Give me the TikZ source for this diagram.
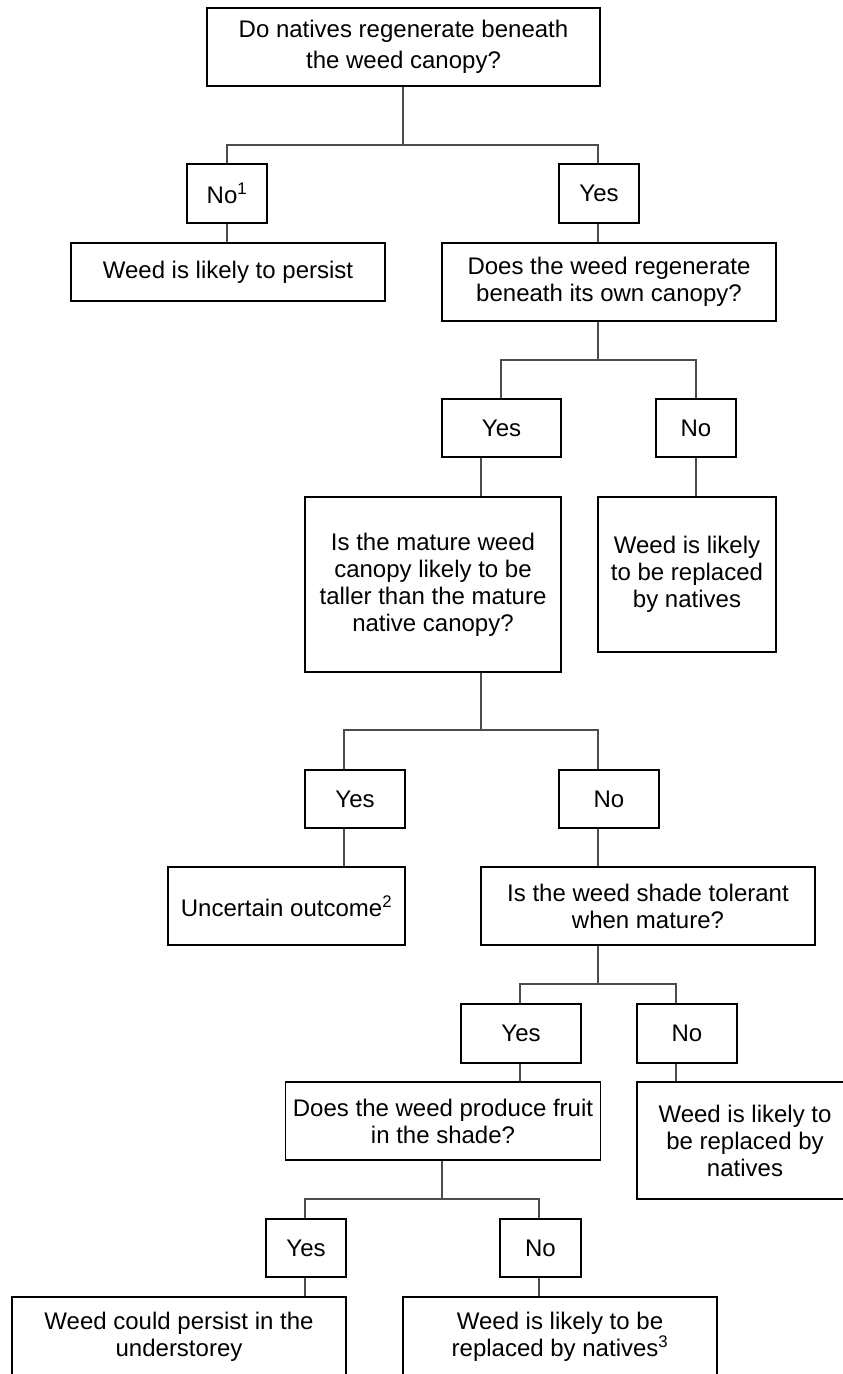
\documentclass[tikz,border=0pt]{standalone}
\usepackage{fontspec}
\setmainfont{Liberation Sans}

\def \boxLine {1.3pt}
\def \linkLine {1.1pt}

\tikzset{
  box/.style={draw=black, line width=\boxLine, inner sep=0pt, align=center,
    font=\fontsize{24}{27}\selectfont},
  link/.style={draw=black!70, line width=\linkLine},
}

\begin{document}
\begin{tikzpicture}[x=1pt, y=-1pt]
         \useasboundingbox (0,0) rectangle (843,1374);
         \clip (0,0) rectangle (843,1374);

         % Erste Frage
         \node[box, minimum width=393, minimum height=78, font=\fontsize{24}{31}\selectfont] (q1) at (403.5, 47) {Do natives regenerate beneath\\the weed canopy?};
         \node[box, minimum width=80, minimum height=59] (no1) at (227, 193.5) {No\textsuperscript{1}};
         \node[box, minimum width=80, minimum height=59] (yes1) at (599, 193.5) {Yes};
         \node[box, minimum width=314, minimum height=58] (persist1) at (228, 272) {Weed is likely to persist};
         \node[box, minimum width=334, minimum height=78] (q2) at (609, 282) {Does the weed regenerate\\beneath its own canopy?};

         % Zweite Ebene
         \node[box, minimum width=119, minimum height=58] (yes2) at (501.5, 428) {Yes};
         \node[box, minimum width=80, minimum height=58] (no2) at (696, 428) {No};
         \node[box, minimum width=256, minimum height=175] (q3) at (433, 584.5) {Is the mature weed\\canopy likely to be\\taller than the mature\\native canopy?};
         \node[box, minimum width=178, minimum height=155] (rep1) at (687, 574.5) {Weed is likely\\to be replaced\\by natives};

         % Dritte Ebene
         \node[box, minimum width=100, minimum height=58] (yes3) at (355, 799) {Yes};
         \node[box, minimum width=100, minimum height=58] (no3) at (609, 799) {No};
         \node[box, minimum width=237, minimum height=78] (unc) at (286.5, 906) {Uncertain outcome\textsuperscript{2}};
         \node[box, minimum width=334, minimum height=78] (q4) at (648, 906) {Is the weed shade tolerant\\when mature?};

         % Vierte Ebene
         \node[box, minimum width=120, minimum height=59] (yes4) at (521, 1033.5) {Yes};
         \node[box, minimum width=100, minimum height=59] (no4) at (687, 1033.5) {No};
         \node[box, minimum width=315, minimum height=78] (q5) at (443, 1121) {Does the weed produce fruit\\in the shade?};
         \node[box, minimum width=216, minimum height=117] (rep2) at (745, 1140.5) {Weed is likely to\\be replaced by\\natives};

         % Letzte Ebene
         \node[box, minimum width=80, minimum height=58] (yes5) at (306, 1248) {Yes};
         \node[box, minimum width=81, minimum height=58] (no5) at (540.5, 1248) {No};
         \node[box, minimum width=334, minimum height=80] (pers2) at (179, 1337) {Weed could persist in the\\understorey};
         \node[box, minimum width=314, minimum height=80] (rep3) at (560, 1337) {Weed is likely to be\\replaced by natives\textsuperscript{3}};

         % Verzweigungen
         \coordinate (j1) at (403, 145);
         \coordinate (b1l) at (227, 145);
         \coordinate (b1r) at (598, 145);
         \coordinate (j2) at (598, 360);
         \coordinate (b2l) at (501, 360);
         \coordinate (b2r) at (696, 360);
         \coordinate (j3) at (481, 730);
         \coordinate (b3l) at (344, 730);
         \coordinate (b3r) at (598, 730);
         \coordinate (j4) at (598, 984);
         \coordinate (b4l) at (520, 984);
         \coordinate (b4r) at (676, 984);
         \coordinate (j5) at (442, 1199);
         \coordinate (b5l) at (305, 1199);
         \coordinate (b5r) at (539, 1199);

         \draw[link] (q1.south -| j1) -- (j1);
         \draw[link] (no1.north -| b1l) |- (b1r) -- (yes1.north -| b1r);
         \draw[link] (no1.south -| b1l) -- (persist1.north -| b1l);
         \draw[link] (yes1.south -| b1r) -- (q2.north -| b1r);

         \draw[link] (q2.south -| j2) -- (j2);
         \draw[link] (yes2.north -| b2l) |- (b2r) -- (no2.north -| b2r);
         \draw[link] (yes2.south -| j3) -- (q3.north -| j3);
         \draw[link] (no2.south -| b2r) -- (rep1.north -| b2r);

         \draw[link] (q3.south -| j3) -- (j3);
         \draw[link] (yes3.north -| b3l) |- (b3r) -- (no3.north -| b3r);
         \draw[link] (yes3.south -| b3l) -- (unc.north -| b3l);
         \draw[link] (no3.south -| b3r) -- (q4.north -| b3r);

         \draw[link] (q4.south -| j4) -- (j4);
         \draw[link] (yes4.north -| b4l) |- (b4r) -- (no4.north -| b4r);
         \draw[link] (yes4.south -| b4l) -- (q5.north -| b4l);
         \draw[link] (no4.south -| b4r) -- (rep2.north -| b4r);

         \draw[link] (q5.south -| j5) -- (j5);
         \draw[link] (yes5.north -| b5l) |- (b5r) -- (no5.north -| b5r);
         \draw[link] (yes5.south -| b5l) -- (pers2.north -| b5l);
         \draw[link] (no5.south -| b5r) -- (rep3.north -| b5r);
      \end{tikzpicture}
\end{document}
